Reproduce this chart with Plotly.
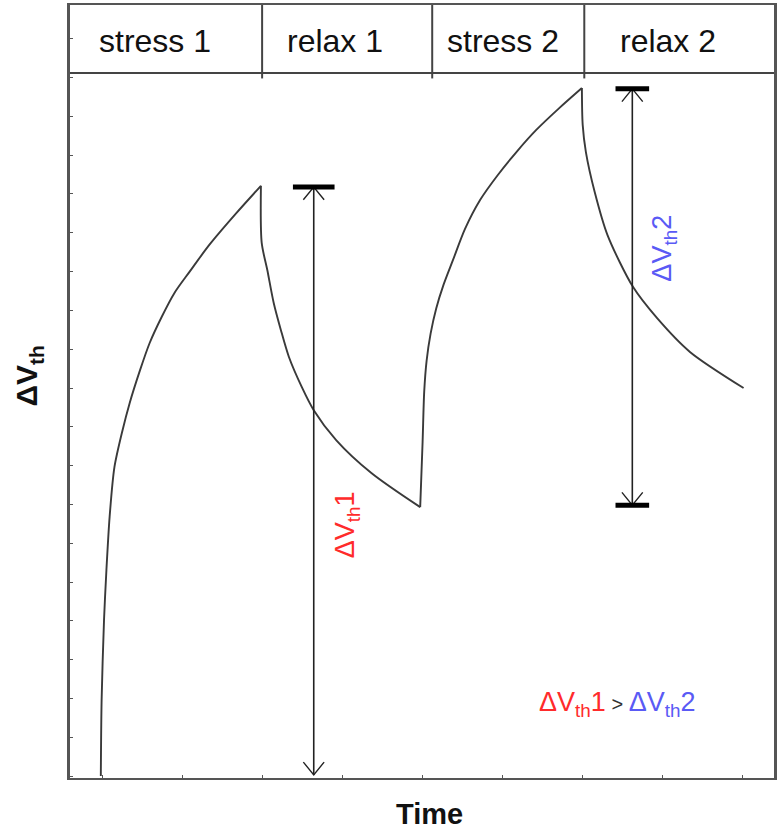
import plotly.graph_objects as go

# phase header
phases = ["stress 1", "relax 1", "stress 2", "relax 2"]
phase_centres = [0.66, 2.91, 5.0, 7.07]
phase_edges = [1.995, 4.12, 6.02]
header_level = 18.12

# threshold-voltage shift vs time (arbitrary units), one list per phase
stress1_t = [-0.02, -0.01, 0.02, 0.05, 0.09, 0.15, 0.25, 0.34, 0.47, 0.59, 0.74, 0.90,
             1.09, 1.34, 1.67, 1.98]
stress1_v = [0.0, 1.96, 4.02, 5.31, 6.68, 7.96, 8.90, 9.61, 10.46, 11.16, 11.83, 12.45,
             13.00, 13.70, 14.50, 15.21]
relax1_t = [1.99, 2.06, 2.14, 2.23, 2.33, 2.49, 2.64, 2.92, 3.36, 3.97]
relax1_v = [13.74, 13.04, 12.19, 11.49, 10.80, 10.03, 9.43, 8.66, 7.81, 6.93]
stress2_t = [4.00, 4.02, 4.05, 4.10, 4.17, 4.26, 4.38, 4.53, 4.72, 4.94, 5.18, 5.42,
             5.70, 5.99]
stress2_v = [8.61, 9.90, 10.70, 11.40, 12.05, 12.65, 13.30, 14.10, 14.85, 15.49, 16.10,
             16.65, 17.20, 17.73]
relax2_t = [6.00, 6.04, 6.15, 6.31, 6.63, 6.93, 7.34, 8.01]
relax2_v = [16.78, 16.08, 15.05, 13.94, 12.60, 11.80, 10.93, 10.00]

# delta-Vth markers: (time, top, bottom, cap half width, caps drawn)
dv1 = (2.64, 15.18, 0.03, 0.26, ("top",))
dv2 = (6.62, 17.71, 6.98, 0.21, ("top", "bottom"))

RED = "#ff2b2b"
BLUE = "#5a5af5"
INK = "#3a3a3a"

fig = go.Figure()

# each phase is its own smooth segment, joined at the turning points
segments = [
    (stress1_t, stress1_v),
    (stress1_t[-1:] + relax1_t, stress1_v[-1:] + relax1_v),
    (relax1_t[-1:] + stress2_t, relax1_v[-1:] + stress2_v),
    (stress2_t[-1:] + relax2_t, stress2_v[-1:] + relax2_v),
]
for seg_t, seg_v in segments:
    fig.add_trace(go.Scatter(x=seg_t, y=seg_v, mode="lines",
                             line=dict(color=INK, width=1.9, shape="spline", smoothing=0.8),
                             hoverinfo="skip"))


def add_double_arrow(fig, marker, head_dt=0.13, head_dv=0.33):
    t, top, bottom, half, caps = marker
    fig.add_trace(go.Scatter(x=[t, t], y=[top, bottom], mode="lines",
                             line=dict(color="#222222", width=1.6), hoverinfo="skip"))
    # open V heads at both ends, pointing outwards
    for tip, sign in ((top, 1), (bottom, -1)):
        fig.add_trace(go.Scatter(
            x=[t - head_dt, t, t + head_dt],
            y=[tip - sign * head_dv, tip, tip - sign * head_dv],
            mode="lines", line=dict(color="#222222", width=1.4), hoverinfo="skip"))
    for cap in caps:
        level = top if cap == "top" else bottom
        fig.add_trace(go.Scatter(x=[t - half, t + half], y=[level, level], mode="lines",
                                 line=dict(color="black", width=5), hoverinfo="skip"))


add_double_arrow(fig, dv1)
add_double_arrow(fig, dv2)

# header row
shapes = [dict(type="line", xref="paper", yref="y", x0=0, x1=1,
               y0=header_level, y1=header_level, line=dict(color="#444444", width=2))]
for edge in phase_edges:
    shapes.append(dict(type="line", xref="x", yref="paper", x0=edge, x1=edge,
                       y0=0.905, y1=1, line=dict(color="#444444", width=2)))

annotations = []
for name, centre in zip(phases, phase_centres):
    annotations.append(dict(x=centre, y=18.95, xref="x", yref="y", text=name,
                            showarrow=False, font=dict(family="Liberation Sans", size=32,
                                                       color="#111111")))

annotations += [
    dict(x=dv1[0] + 0.42, y=6.47, xref="x", yref="y", text="ΔV<sub>th</sub>1",
         textangle=-90, showarrow=False, xanchor="center", yanchor="middle",
         font=dict(family="Liberation Sans", size=27, color=RED)),
    dict(x=dv2[0] + 0.4, y=13.6, xref="x", yref="y", text="ΔV<sub>th</sub>2",
         textangle=-90, showarrow=False, xanchor="center", yanchor="middle",
         font=dict(family="Liberation Sans", size=27, color=BLUE)),
    dict(x=6.43, y=1.85, xref="x", yref="y",
         text=(f"<span style='color:{RED}'>ΔV<sub>th</sub>1</span>"
               f"<span style='color:#333;font-size:20px'> > </span>"
               f"<span style='color:{BLUE}'>ΔV<sub>th</sub>2</span>"),
         showarrow=False, font=dict(family="Liberation Sans", size=27)),
    dict(x=-0.059, y=0.52, xref="paper", yref="paper", text="<b>ΔV<sub>th</sub></b>",
         textangle=-90, showarrow=False, xanchor="center", yanchor="middle",
         font=dict(family="Liberation Sans", size=30, color="#111111")),
    dict(x=0.51, y=-0.047, xref="paper", yref="paper", text="<b>Time</b>",
         showarrow=False, xanchor="center", yanchor="middle",
         font=dict(family="Liberation Sans", size=29, color="#111111")),
]

fig.update_layout(
    width=779, height=835,
    margin=dict(l=70, r=2, t=5, b=57),
    paper_bgcolor="white", plot_bgcolor="white",
    showlegend=False,
    shapes=shapes,
    annotations=annotations,
)
fig.update_xaxes(range=[-0.405, 8.39], showgrid=False, zeroline=False,
                 showline=True, mirror=True, linecolor="#555555", linewidth=2,
                 ticks="inside", tick0=0, dtick=1, ticklen=3, tickcolor="#555555",
                 showticklabels=False)
fig.update_yaxes(range=[-0.05, 19.87], showgrid=False, zeroline=False,
                 showline=True, mirror=True, linecolor="#555555", linewidth=3,
                 ticks="inside", tick0=0, dtick=1, ticklen=3, tickcolor="#555555",
                 showticklabels=False)

# drop the default page margin so the figure sits flush in the window
fig.write_html("out.html", config={"displayModeBar": False},
               post_script="document.body.style.margin='0';")
